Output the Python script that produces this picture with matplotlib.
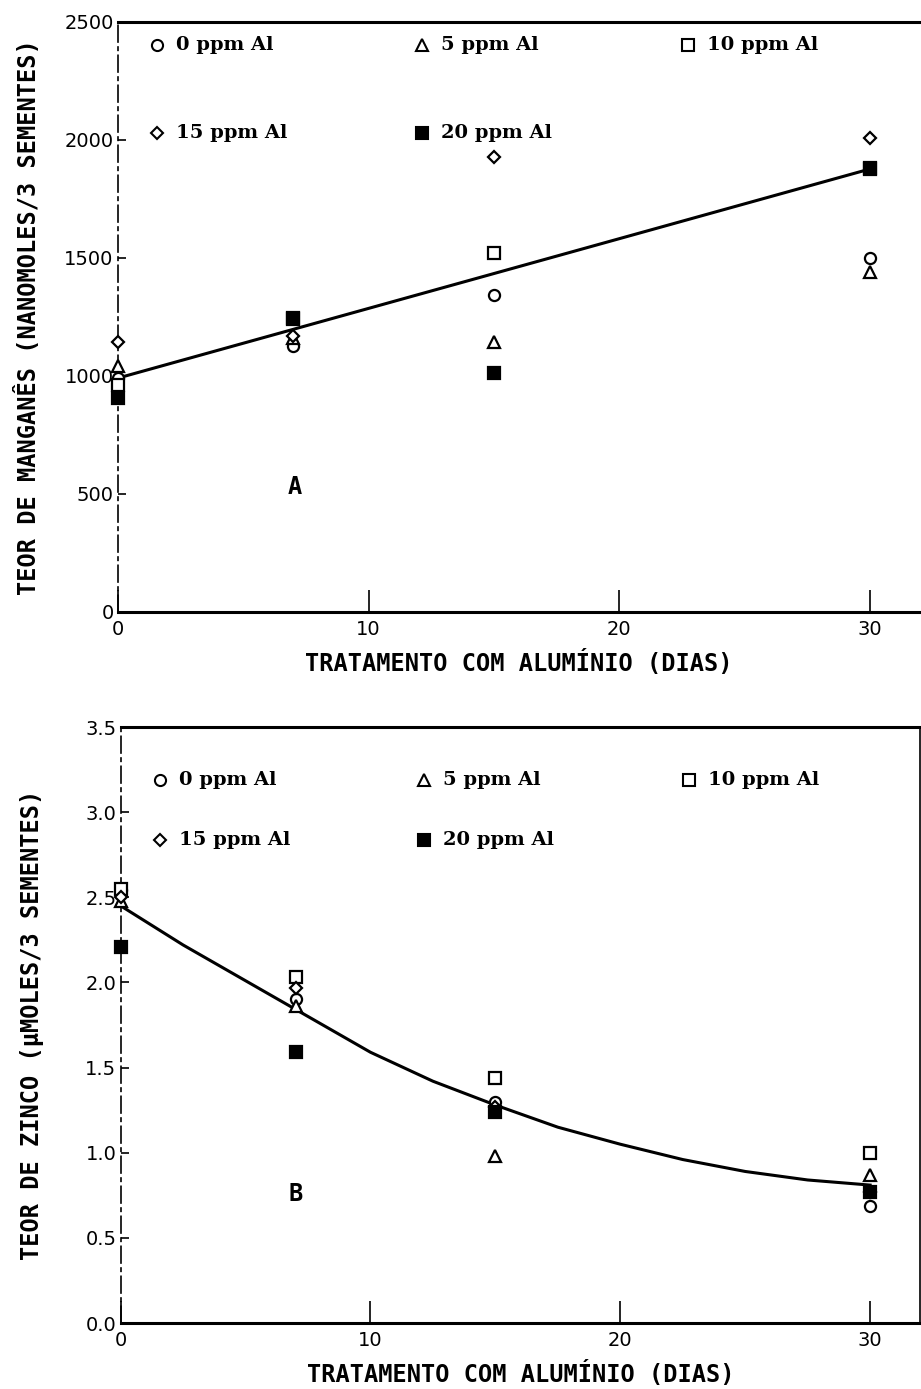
import matplotlib
matplotlib.use("Agg")
import matplotlib.pyplot as plt

# sampling days
days = [0, 7, 15, 30]

# panel A: manganese (nanomoles / 3 seeds)
mn_0 = [990, 1125, 1343, 1500]
mn_5 = [1042, 1160, 1144, 1441]
mn_10 = [960, 1240, 1521, 1880]
mn_15 = [1144, 1170, 1928, 2008]
mn_20 = [907, 1246, 1013, 1877]
mn_fit_x = [0, 30]
mn_fit_y = [991, 1877]

# panel B: zinc (micromoles / 3 seeds)
zn_0 = [2.54, 1.90, 1.30, 0.69]
zn_5 = [2.48, 1.86, 0.98, 0.87]
zn_10 = [2.55, 2.03, 1.44, 1.00]
zn_15 = [2.50, 1.97, 1.27, 0.77]
zn_20 = [2.21, 1.59, 1.24, 0.77]
zn_fit_x = [0, 2.5, 5, 7.5, 10, 12.5, 15, 17.5, 20, 22.5, 25, 27.5, 30]
zn_fit_y = [2.45, 2.22, 2.01, 1.80, 1.59, 1.42, 1.28, 1.15, 1.05, 0.96, 0.89, 0.84, 0.81]

labels = ["0 ppm Al", "5 ppm Al", "10 ppm Al", "15 ppm Al", "20 ppm Al"]
markers = ["o", "^", "s", "D", "s"]
faces = ["white", "white", "white", "white", "black"]
sizes = [8, 8, 8, 6, 8]

label_font = ["Liberation Sans Narrow", "DejaVu Sans"]
legend_font = "DejaVu Serif"


def style_axes(ax, yticks, yticklabels, ylim, ylabel, ypad):
    ax.set_xlim(0, 32)
    ax.set_ylim(*ylim)
    ax.set_xticks([0, 10, 20, 30])
    ax.set_xticklabels(["0", "10", "20", "30"], fontsize=14, family=label_font)
    ax.set_yticks(yticks)
    ax.set_yticklabels(yticklabels, fontsize=14, family=label_font)
    ax.tick_params(axis="x", direction="in", length=16, width=1.2, pad=6)
    ax.tick_params(axis="y", direction="in", length=6, width=1.2, pad=3)
    ax.spines["top"].set_linewidth(2.2)
    ax.spines["bottom"].set_linewidth(2.2)
    ax.spines["left"].set_linewidth(1.2)
    ax.spines["left"].set_linestyle((0, (10, 3, 2, 3)))
    ax.spines["right"].set_linewidth(1.2)
    ax.set_xlabel("TRATAMENTO COM ALUMÍNIO (DIAS)", fontsize=17,
                  family="DejaVu Sans Mono", fontweight="bold", labelpad=8)
    ax.set_ylabel(ylabel, fontsize=17, family="DejaVu Sans Mono",
                  fontweight="bold", labelpad=ypad)


def draw_legend(ax, rows_y):
    cols_x = [0.049, 0.379, 0.711, 0.049, 0.379]
    rows = [rows_y[0], rows_y[0], rows_y[0], rows_y[1], rows_y[1]]
    for i in range(5):
        ax.plot(cols_x[i], rows[i], marker=markers[i], markersize=sizes[i],
                markerfacecolor=faces[i], markeredgecolor="black",
                markeredgewidth=1.5, transform=ax.transAxes, linestyle="none")
        ax.text(cols_x[i] + 0.024, rows[i], labels[i], transform=ax.transAxes,
                fontsize=14, family=legend_font, fontweight="bold",
                va="center", ha="left")


fig = plt.figure(figsize=(9.21, 13.89), dpi=100)
ax_a = fig.add_axes([0.128, 0.5594, 0.871, 0.4248])
ax_b = fig.add_axes([0.131, 0.0475, 0.868, 0.4291])

for ax, series, fx, fy in [
    (ax_a, [mn_0, mn_5, mn_10, mn_15, mn_20], mn_fit_x, mn_fit_y),
    (ax_b, [zn_0, zn_5, zn_10, zn_15, zn_20], zn_fit_x, zn_fit_y),
]:
    ax.plot(fx, fy, color="black", linewidth=2.2, zorder=2)
    for i, vals in enumerate(series):
        ax.plot(days, vals, linestyle="none", marker=markers[i],
                markersize=sizes[i], markerfacecolor=faces[i],
                markeredgecolor="black", markeredgewidth=1.6,
                clip_on=False, zorder=3)

style_axes(ax_a, [0, 500, 1000, 1500, 2000, 2500],
           ["0", "500", "1000", "1500", "2000", "2500"], (0, 2500),
           "TEOR DE MANGANÊS (NANOMOLES/3 SEMENTES)", 17)
ax_a.spines["right"].set_visible(False)
draw_legend(ax_a, [0.961, 0.812])
ax_a.text(7.05, 530, "A", fontsize=17, family="DejaVu Sans Mono",
          fontweight="bold", ha="center", va="center")

style_axes(ax_b, [0, 0.5, 1.0, 1.5, 2.0, 2.5, 3.0, 3.5],
           ["0.0", "0.5", "1.0", "1.5", "2.0", "2.5", "3.0", "3.5"], (0, 3.5),
           "TEOR DE ZINCO (µMOLES/3 SEMENTES)", 30)
draw_legend(ax_b, [0.911, 0.810])
ax_b.text(7.0, 0.76, "B", fontsize=17, family="DejaVu Sans Mono",
          fontweight="bold", ha="center", va="center")

fig.savefig("out.png", dpi=100)
